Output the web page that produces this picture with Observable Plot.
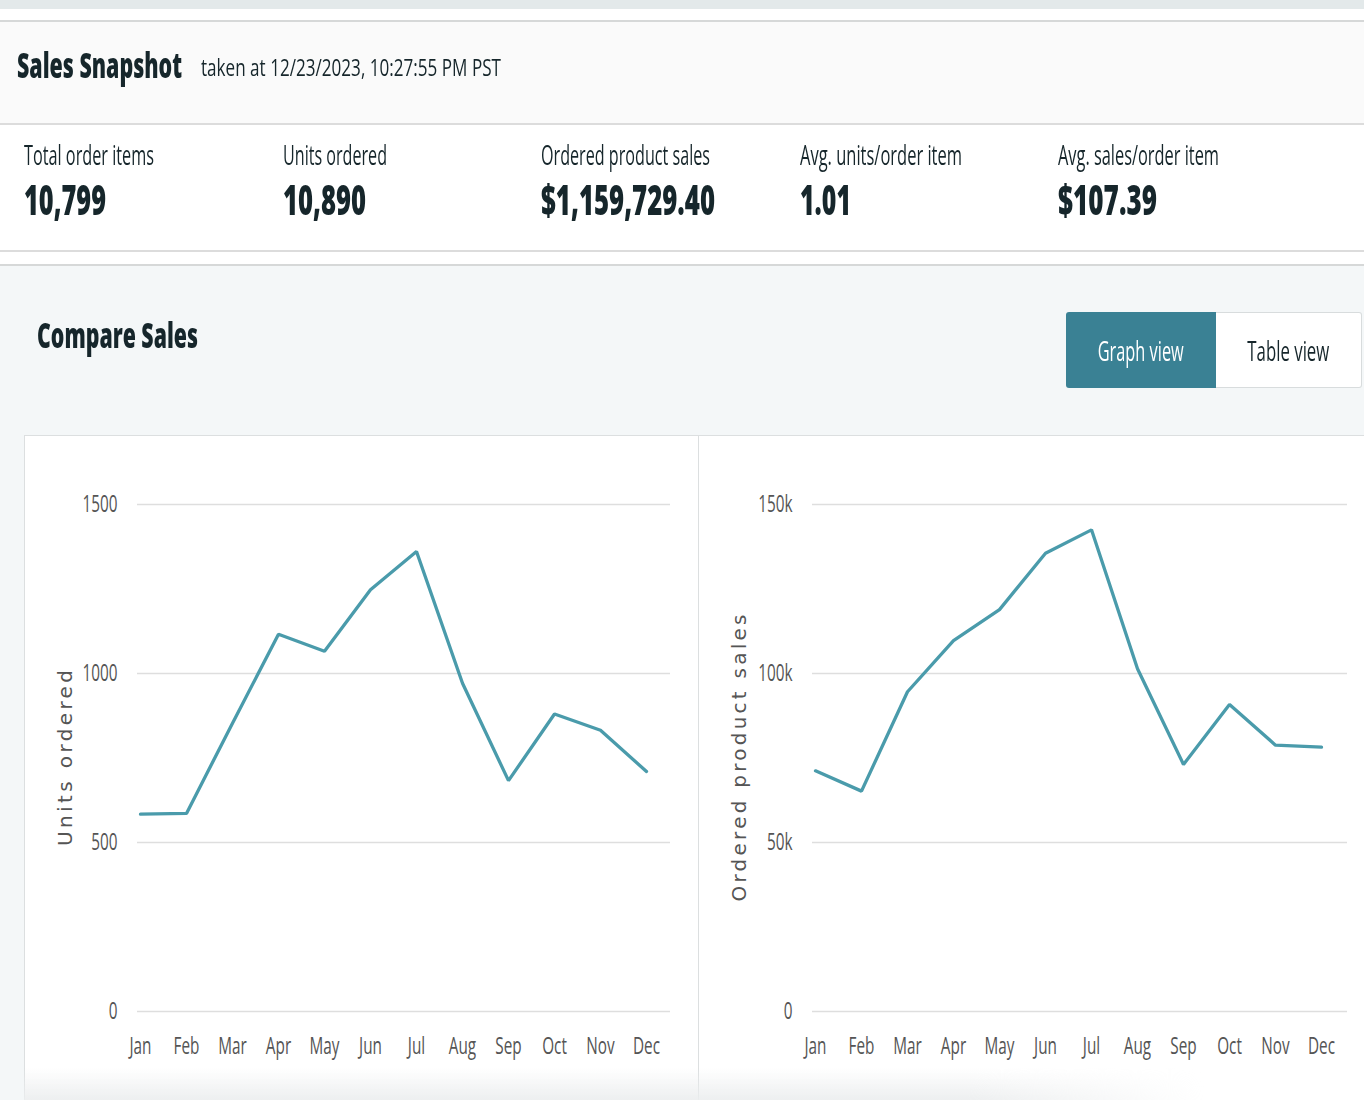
<!DOCTYPE html>
<html>
<head>
<meta charset="utf-8">
<script src="https://cdn.jsdelivr.net/npm/d3@7"></script>
<script src="https://cdn.jsdelivr.net/npm/@observablehq/plot@0.6"></script>
<style>
  html, body { margin:0; padding:0; }
  body { width:1364px; height:1100px; position:relative; overflow:hidden; background:#f4f7f8;
         font-family:"Open Sans","Noto Sans",sans-serif; color:#16262b; }
  .abs { position:absolute; }
  .txt { line-height:1; white-space:nowrap; transform-origin:0 50%; }
  .topstrip { left:0; top:0; width:1364px; height:9px; background:#e3e9ea; }
  .whiteband { left:0; top:9px; width:1364px; height:11px; background:#fff; border-bottom:2px solid #d6d8d8; }
  .snap { left:0; top:22px; width:1364px; height:101px; background:#fafafa; border-bottom:2px solid #dcdcdc; }
  .title { left:17px; top:47px; font-size:35px; font-weight:800; }
  .taken { left:201px; top:55px; font-size:24px; }
  .metrics { left:0; top:125px; width:1364px; height:125px; background:#fff; border-bottom:2px solid #dcdcdc; }
  .mlabel { font-size:28px; top:140px; }
  .mvalue { font-size:42px; font-weight:800; top:178px; }
  .gap { left:0; top:252px; width:1364px; height:12px; background:#fff; border-bottom:2px solid #d6d8d8; }
  .compare { left:37px; top:317px; font-size:35px; font-weight:800; }
  .btn { top:312px; height:76px; font-size:28px; display:flex; align-items:center; justify-content:center; box-sizing:border-box; }
  .btn span { display:inline-block; line-height:1; white-space:nowrap; transform-origin:50% 50%; }
  .btn1 { left:1066px; width:150px; background:#3a8194; color:#fff; border-radius:3px 0 0 3px; }
  .btn2 { left:1216px; width:146px; background:#fff; color:#16262b; border:1px solid #d8dcdd; border-left:none; border-radius:0 3px 3px 0; }
  .panel { left:24px; top:435px; width:1345px; height:670px; background:#fff; border:1px solid #dcdfe0; box-sizing:border-box; }
  .divider { left:698px; top:436px; width:1px; height:664px; background:#dcdfe0; }
  .fade { left:24px; top:1068px; width:1180px; height:32px;
          background:linear-gradient(to bottom, rgba(235,237,238,0), rgba(235,237,238,0.9));
          -webkit-mask-image:linear-gradient(to right, #000 80%, transparent 100%); }
</style>
</head>
<body>
<div class="abs topstrip"></div>
<div class="abs whiteband"></div>
<div class="abs snap"></div>
<div class="abs txt title" data-w="165">Sales Snapshot</div>
<div class="abs txt taken" data-w="300">taken at 12/23/2023, 10:27:55 PM PST</div>
<div class="abs metrics"></div>
<div id="metrics"></div>
<div class="abs gap"></div>
<div class="abs txt compare" data-w="161">Compare Sales</div>
<div class="abs btn btn1"><span data-w="86">Graph view</span></div>
<div class="abs btn btn2"><span data-w="82">Table view</span></div>
<div class="abs panel"></div>
<div class="abs divider"></div>
<div class="abs" id="chart1" style="left:25px; top:435px;"></div>
<div class="abs" id="chart2" style="left:699px; top:435px;"></div>
<div class="abs fade"></div>

<script>
// ---- data ----
const metricLabels = ["Total order items", "Units ordered", "Ordered product sales", "Avg. units/order item", "Avg. sales/order item"];
const metricValues = ["10,799", "10,890", "$1,159,729.40", "1.01", "$107.39"];
const metricLabelWidths = [130, 104, 169, 162, 161];
const metricValueWidths = [82, 83, 174, 51, 99];

const months = ["Jan","Feb","Mar","Apr","May","Jun","Jul","Aug","Sep","Oct","Nov","Dec"];
const unitsOrdered = [584, 586, 853, 1116, 1066, 1248, 1361, 971, 683, 880, 832, 710];
const productSales = [71200, 65200, 94600, 109700, 118900, 135600, 142500, 101400, 73100, 90800, 78800, 78200];

const unitTicks = [0, 500, 1000, 1500];
const salesTicks = [0, 50000, 100000, 150000];
const salesTickLabels = ["0", "50k", "100k", "150k"];

// ---- metrics row ----
const mBox = document.getElementById("metrics");
metricLabels.forEach((lab, i) => {
  const x = 24 + i * 258.5;
  const l = document.createElement("div");
  l.className = "abs txt mlabel"; l.style.left = x + "px"; l.textContent = lab; l.dataset.w = metricLabelWidths[i];
  const v = document.createElement("div");
  v.className = "abs txt mvalue"; v.style.left = x + "px"; v.textContent = metricValues[i]; v.dataset.w = metricValueWidths[i];
  mBox.appendChild(l); mBox.appendChild(v);
});

// condense HTML text to the reference's narrow widths
document.querySelectorAll("[data-w]").forEach(el => {
  const w = el.getBoundingClientRect().width;
  el.style.transform = `scaleX(${(+el.dataset.w / w).toFixed(4)})`;
});

// ---- charts ----
const tickFont = '"Open Sans","Noto Sans",sans-serif';
const lineColor = "#4a9bab";
const tickFontSize = 24;

// width factor so that "1500" is ~35px wide like the condensed reference font
const ctx = document.createElement("canvas").getContext("2d");
ctx.font = `${tickFontSize}px "Open Sans"`;
const tickFactor = 35 / ctx.measureText("1500").width;

function makeChart({values, ticks, tickLabels, label, labelLen, width, marginLeft, marginRight, spanX, host}) {
  const data = months.map((m, i) => ({month: m, value: values[i]}));
  const fmt = d => tickLabels[ticks.indexOf(d)];
  const chart = Plot.plot({
    width, height: 665,
    marginLeft, marginRight, marginTop: 69, marginBottom: 89,
    style: {background: "transparent", fontFamily: tickFont, fontSize: tickFontSize + "px", color: "#555", overflow: "visible"},
    x: {type: "point", domain: months, range: [marginLeft, marginLeft + spanX], padding: 0, label: null},
    y: {domain: [0, ticks[ticks.length - 1]], label: null},
    marks: [
      Plot.gridY(ticks, {stroke: "#dedede", strokeOpacity: 1, strokeWidth: 1.5}),
      Plot.axisY(ticks, {tickSize: 0, tickPadding: 20, tickFormat: fmt, label: null, fontSize: tickFontSize}),
      Plot.axisX({tickSize: 0, tickPadding: 25, label: null, fontSize: tickFontSize}),
      Plot.text([label], {frameAnchor: "left", dx: -(marginLeft - 40), rotate: -90, text: d => d,
                          fontSize: 20, fontFamily: "DejaVu Sans, Verdana, sans-serif", fill: "#555", lineAnchor: "middle"}),
      Plot.lineY(data, {x: "month", y: "value", stroke: lineColor, strokeWidth: 3.3, strokeLinejoin: "miter"})
    ]
  });
  document.getElementById(host).appendChild(chart);
  chart.querySelectorAll('g[aria-label="y-axis tick label"] text, g[aria-label="x-axis tick label"] text').forEach(t => {
    const w = t.getComputedTextLength();
    t.setAttribute("textLength", (w * tickFactor).toFixed(2));
    t.setAttribute("lengthAdjust", "spacingAndGlyphs");
  });
  // spread the rotated axis label over the reference's length, centred on the frame
  chart.querySelectorAll('g[aria-label="text"] text').forEach(t => {
    t.setAttribute("text-anchor", "start");
    t.setAttribute("x", -labelLen / 2);
    t.setAttribute("textLength", labelLen);
    t.setAttribute("lengthAdjust", "spacing");
  });
  return chart;
}

makeChart({
  values: unitsOrdered, ticks: unitTicks, tickLabels: unitTicks.map(String), label: "Units ordered", labelLen: 176,
  width: 673, marginLeft: 112, marginRight: 28, spanX: 511, host: "chart1"
});
makeChart({
  values: productSales, ticks: salesTicks, tickLabels: salesTickLabels, label: "Ordered product sales", labelLen: 287,
  width: 665, marginLeft: 113, marginRight: 17, spanX: 512, host: "chart2"
});
</script>
</body>
</html>
